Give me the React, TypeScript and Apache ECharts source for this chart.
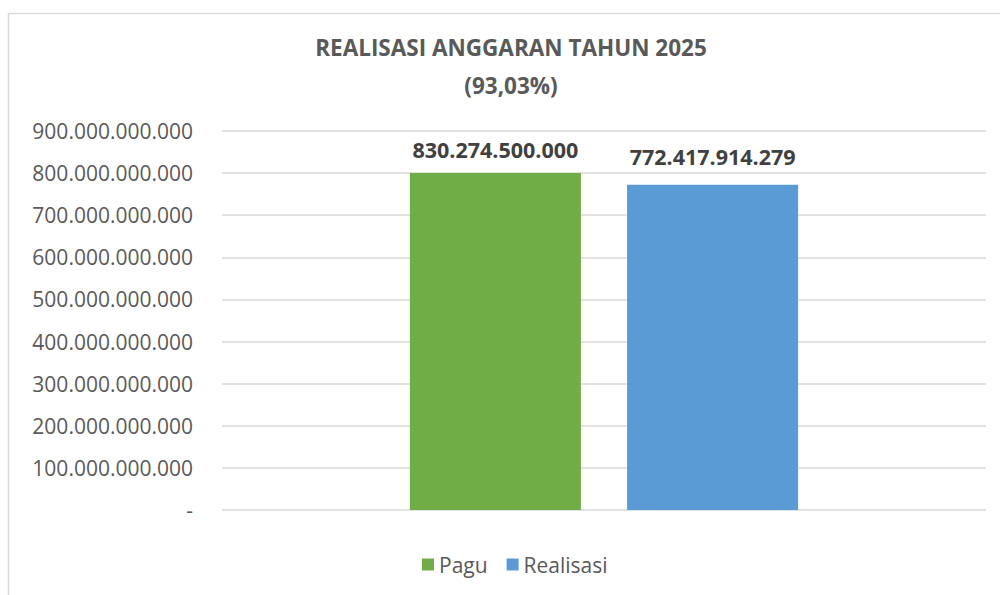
import React, { useEffect, useRef } from "react";
import * as echarts from "echarts";

const categories = ["2025"];
const seriesNames = ["Pagu", "Realisasi"];
const paguValues = [800000000000];
const realisasiValues = [772417914279];
const paguLabels = ["830.274.500.000"];
const realisasiLabels = ["772.417.914.279"];
const titleLines = ["REALISASI ANGGARAN TAHUN 2025", "(93,03%)"];
const yMax = 900000000000;
const yInterval = 100000000000;

const fmt = (v: number) =>
  v === 0 ? "-" : String(Math.round(v)).replace(/\B(?=(\d{3})+(?!\d))/g, ".");

export default function App() {
  const ref = useRef<HTMLDivElement>(null);
  useEffect(() => {
    if (!ref.current) return;
    const chart = echarts.init(ref.current, undefined, { renderer: "svg" });
    const font = "'Open Sans', sans-serif";
    chart.setOption({
      animation: false,
      backgroundColor: "#ffffff",
      textStyle: { fontFamily: font },
      title: {
        text: titleLines.join("\n"),
        left: 506,
        textAlign: "center",
        top: 23,
        textStyle: {
          fontFamily: font,
          fontSize: 22.5,
          fontWeight: "bold",
          color: "#595959",
          lineHeight: 38,
        },
      },
      graphic: [
        {
          type: "rect",
          shape: { x: 8.5, y: 13.5, width: 1200, height: 800 },
          style: { fill: "none", stroke: "#d9d9d9", lineWidth: 1.5 },
          silent: true,
        },
      ],
      legend: {
        bottom: 15,
        left: 417,
        itemWidth: 12,
        itemHeight: 12,
        itemGap: 19,
        icon: "rect",
        textStyle: { fontFamily: font, fontSize: 21, color: "#595959" },
        data: seriesNames,
      },
      grid: { left: 222, right: 14, top: 131, bottom: 85, containLabel: false },
      xAxis: {
        type: "category",
        data: categories,
        axisLine: { show: false },
        axisTick: { show: false },
        axisLabel: { show: false },
      },
      yAxis: {
        type: "value",
        min: 0,
        max: yMax,
        interval: yInterval,
        axisLine: { show: false },
        axisTick: { show: false },
        splitLine: { lineStyle: { color: "#d9d9d9", width: 1.5 } },
        axisLabel: {
          formatter: fmt,
          margin: 29,
          fontFamily: font,
          fontSize: 21,
          color: "#595959",
        },
      },
      series: [
        {
          name: seriesNames[0],
          type: "bar",
          data: paguValues.map((v, i) => ({
            value: v,
            label: { formatter: paguLabels[i], distance: 13 },
          })),
          itemStyle: { color: "#70ad47" },
          barWidth: 171,
          barGap: "27%",
          label: {
            show: true,
            position: "top",
            fontFamily: font,
            fontSize: 21.5,
            fontWeight: "bold",
            color: "#404040",
          },
        },
        {
          name: seriesNames[1],
          type: "bar",
          data: realisasiValues.map((v, i) => ({
            value: v,
            label: { formatter: realisasiLabels[i], distance: 17 },
          })),
          itemStyle: { color: "#5b9bd5" },
          barWidth: 171,
          barGap: "27%",
          label: {
            show: true,
            position: "top",
            fontFamily: font,
            fontSize: 21.5,
            fontWeight: "bold",
            color: "#404040",
          },
        },
      ],
    });
    return () => chart.dispose();
  }, []);
  return (
    <div
      ref={ref}
      style={{ position: "fixed", left: 0, top: 0, width: 1000, height: 595 }}
    />
  );
}
